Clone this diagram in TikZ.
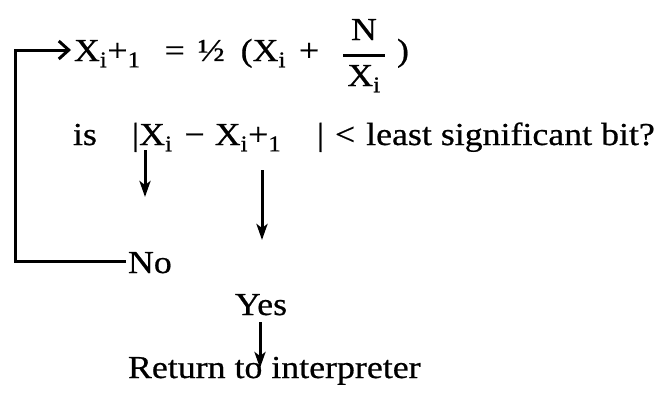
\documentclass[tikz,border=0pt]{standalone}
\usepackage{fontspec}
\setmainfont[FakeStretch=1.12,FakeBold=0.6]{Liberation Serif}
\usetikzlibrary{arrows.meta,calc}
\tikzset{
  txt/.style={inner sep=0pt, outer sep=0pt, anchor=base west, font=\fontsize{32}{38}\selectfont},
  ctxt/.style={txt, anchor=base},
  loopline/.style={line width=3pt, -{Straight Barb[length=10pt,width=18pt,line width=3pt]}},
  dnarrow/.style={line width=3pt, -{Stealth[length=16pt,width=11pt,inset=4pt]}},
  fracbar/.style={line width=3pt},
}
\begin{document}
\begin{tikzpicture}[x=1pt,y=-1pt]
\fill[white] (0,0) rectangle (667,392);
\useasboundingbox (0,0) rectangle (667,392);

% line 1
\node[txt] (l1) at (74,61) {X\textsubscript{i}+\textsubscript{1}\hspace{24pt}=\hspace{13pt}½\hspace{16pt}(X\textsubscript{i}\hspace{13pt}+};
\coordinate (fb) at (343,55);
\coordinate (fe) at (385,55);
\draw[fracbar] (fb) -- (fe);
\node[ctxt] (num) at ($(fb)!0.5!(fe)+(0,-15)$) {N};
\node[ctxt] (den) at ($(fb)!0.5!(fe)+(0,31)$) {X\textsubscript{i}};
\node[txt] (rp) at (397,61) {)};

% line 2
\node[txt] (is) at (73,145) {is};
\node[txt] (ab) at (132,145) {|X\textsubscript{i}\hspace{12pt}−\hspace{10pt}X\textsubscript{i}+\textsubscript{1}};
\node[txt] (bar2) at (317,145) {|};
\node[txt] (rest) at (335,145) {<\hspace{11pt}least significant bit?};

% answers
\node[txt] (no) at (128,273) {No};
\node[ctxt] (yes) at (261,315) {Yes};
\node[txt] (ret) at (128,378) {Return to interpreter};

% loop back
\coordinate (leftx) at (15,0);
\coordinate (noIn) at ($(no.base west)+(-2,-12)$);
\coordinate (l1In) at ($(l1.base west)+(-3,-11)$);
\draw[loopline] (noIn) -- (noIn -| leftx) |- (l1In);

% down arrows
\coordinate (a1s) at ($(ab.base west)+(13,5)$);
\coordinate (a1e) at ($(a1s)+(0,47)$);
\draw[dnarrow] (a1s) -- (a1e);
\coordinate (a2s) at ($(yes.base)+(1,-145)$);
\coordinate (a2e) at ($(yes.base)+(1,-75)$);
\draw[dnarrow] (a2s) -- (a2e);
\coordinate (a3s) at ($(yes.base)+(-1,7)$);
\coordinate (a3e) at ($(ret.base -| a3s)+(0,-10)$);
\draw[dnarrow] (a3s) -- (a3e);
\end{tikzpicture}
\end{document}
